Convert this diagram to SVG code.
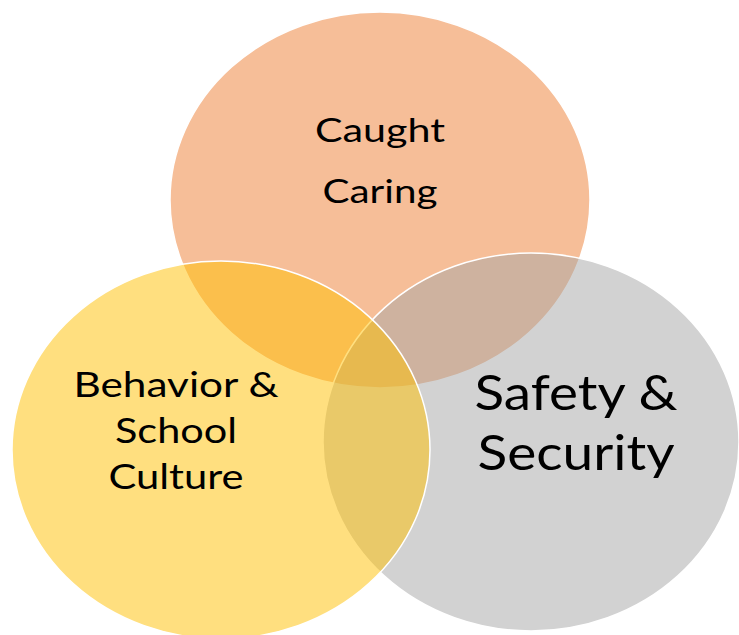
<svg xmlns="http://www.w3.org/2000/svg" width="739" height="635" viewBox="0 0 739 635">
<style>
.c{fill-opacity:0.5;stroke:#ffffff;stroke-width:1.5}
.t{font-family:Lato,"Open Sans","Liberation Sans",sans-serif;fill:#000;text-anchor:middle}
</style>
<rect width="739" height="635" fill="#ffffff"/>
<g id="caught-caring">
<ellipse class="c" cx="380" cy="200" rx="210" ry="188" fill="#ED7D31"/>
</g>
<g id="safety-security">
<ellipse class="c" cx="531" cy="442" rx="208" ry="189" fill="#A5A5A5"/>
</g>
<g id="behavior-culture">
<ellipse class="c" cx="221" cy="450" rx="209" ry="189" fill="#FFC000"/>
</g>
<g id="labels">
<text class="t" x="380" y="142" font-size="32" textLength="130" lengthAdjust="spacingAndGlyphs">Caught</text>
<text class="t" x="380" y="203" font-size="32" textLength="115" lengthAdjust="spacingAndGlyphs">Caring</text>
<text class="t" x="176" y="397" font-size="35" textLength="205" lengthAdjust="spacingAndGlyphs">Behavior &amp;</text>
<text class="t" x="176" y="443" font-size="35" textLength="122" lengthAdjust="spacingAndGlyphs">School</text>
<text class="t" x="176" y="489" font-size="35" textLength="135" lengthAdjust="spacingAndGlyphs">Culture</text>
<text class="t" x="576" y="410" font-size="48" textLength="203" lengthAdjust="spacingAndGlyphs">Safety &amp;</text>
<text class="t" x="576" y="470" font-size="48" textLength="197" lengthAdjust="spacingAndGlyphs">Security</text>
</g>
<g id="connectors"/>
</svg>
